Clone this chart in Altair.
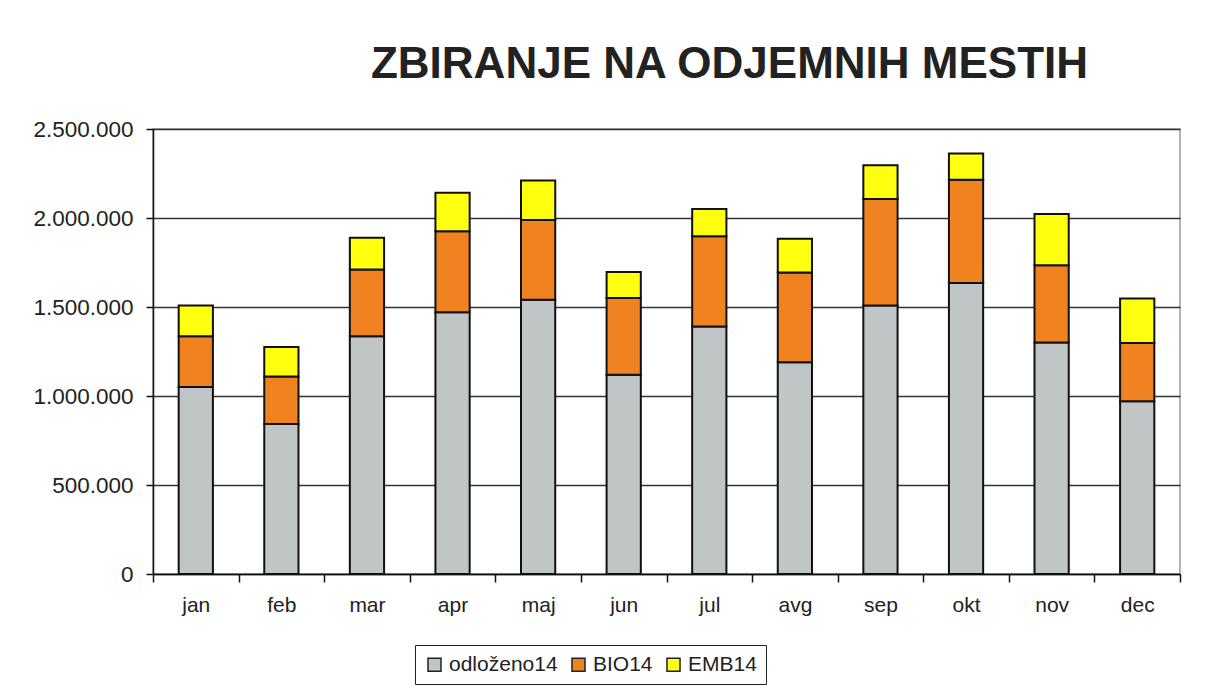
import altair as alt
import pandas as pd

months = ["jan", "feb", "mar", "apr", "maj", "jun", "jul", "avg", "sep", "okt", "nov", "dec"]
series = ["odloženo14", "BIO14", "EMB14"]
colors = ["#C0C5C6", "#F08220", "#FFFF10"]

odlozeno14 = [1051000, 843000, 1335000, 1470000, 1541000, 1120000, 1391000, 1189000, 1509000, 1635000, 1301000, 970000]
bio14 = [284000, 267000, 375000, 455000, 448000, 430000, 506000, 505000, 598000, 580000, 433000, 328000]
emb14 = [174000, 165000, 179000, 217000, 221000, 147000, 154000, 190000, 189000, 148000, 288000, 250000]

y_ticks = [0, 500000, 1000000, 1500000, 2000000, 2500000]

rows = []
for s_idx, (name, vals) in enumerate(zip(series, [odlozeno14, bio14, emb14])):
    for m, v in zip(months, vals):
        rows.append({"mesec": m, "serija": name, "vrednost": v, "red": s_idx})
df = pd.DataFrame(rows)

font = "Liberation Sans"

chart = alt.Chart(df).mark_bar(
    width=alt.RelativeBandSize(0.4), stroke="#111111", strokeWidth=2
).encode(
    x=alt.X("mesec:N", sort=months, title=None,
            scale=alt.Scale(paddingInner=0, paddingOuter=0),
            axis=alt.Axis(labelAngle=0, tickBand="extent", tickSize=8, tickColor="#111",
                          tickWidth=1.5, domainColor="#111", domainWidth=1.5,
                          labelFont=font, labelFontSize=21, labelColor="#222",
                          labelPadding=12, labelBaseline="top", grid=False)),
    y=alt.Y("vrednost:Q", stack="zero", title=None,
            scale=alt.Scale(domain=[0, 2500000], nice=False),
            axis=alt.Axis(values=y_ticks, format=",d", tickSize=7, tickColor="#111",
                          tickWidth=1.5, domainColor="#111", domainWidth=1.5,
                          labelFont=font, labelFontSize=22.5, labelColor="#222",
                          labelPadding=13, grid=True, gridColor="#333333", gridWidth=1.5)),
    color=alt.Color("serija:N", sort=series,
                    scale=alt.Scale(domain=series, range=colors),
                    legend=alt.Legend(title=None, orient="none", direction="horizontal",
                                      legendX=262, legendY=516,
                                      symbolType="square", symbolSize=170,
                                      symbolStrokeColor="#222", symbolStrokeWidth=1.5,
                                      labelFont=font, labelFontSize=21, labelColor="#222",
                                      columnPadding=10, padding=9,
                                      strokeColor="#222", fillColor="white")),
    order=alt.Order("red:Q", sort="ascending"),
).properties(
    width=1027,
    height=445,
    title=alt.TitleParams("ZBIRANJE NA ODJEMNIH MESTIH", font=font, fontSize=44,
                          fontWeight="bold", color="#222", anchor="middle", dx=63, offset=31),
    autosize=alt.AutoSizeParams(type="none"),
    padding={"left": 145, "top": 121, "right": 26, "bottom": 113},
).configure(
    locale={"number": {"decimal": ",", "thousands": ".", "grouping": [3], "currency": ["", " €"]}}
).configure_view(
    stroke="#9a9a9a", strokeWidth=1.5
)

chart.save("out.html", embed_options={"renderer": "svg", "actions": False})
